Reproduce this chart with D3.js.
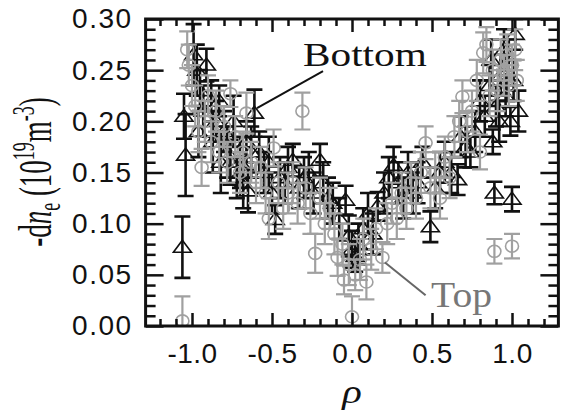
<!DOCTYPE html>
<html>
<head>
<meta charset="utf-8">
<script src="https://cdn.jsdelivr.net/npm/d3@7/dist/d3.min.js"></script>
<style>
  body { margin: 0; background: #fff; }
  svg { display: block; }
</style>
</head>
<body>
<div id="chart"></div>
<script>
// "Bottom" series (black triangles): rho, -dn_e, error
const bottomRho = [-1.06, -1.04, -1.05, -0.99, -0.97, -0.96, -0.95, -0.93, -0.91, -0.88, -0.87, -0.85, -0.83, -0.82, -0.80, -0.78,
  -0.76, -0.74, -0.72, -0.70, -0.68, -0.66, -0.65, -0.63, -0.61, -0.58, -0.55, -0.52, -0.50, -0.48, -0.45, -0.42,
  -0.40, -0.37, -0.33, -0.30, -0.27, -0.24, -0.20, -0.18, -0.15, -0.12, -0.08, -0.04, -0.02, 0.00, 0.02, 0.04,
  0.07, 0.10, 0.13, 0.16, 0.20, 0.23, 0.26, 0.29, 0.32, 0.35, 0.38, 0.41, 0.44, 0.49, 0.52, 0.55,
  0.58, 0.62, 0.66, 0.68, 0.71, 0.74, 0.77, 0.80, 0.83, 0.86, 0.87, 0.88, 0.89, 0.90, 0.92, 0.93,
  0.95, 0.96, 0.97, 0.98, 0.99, 1.00, 1.01, 1.02, 1.04];
const bottomVal = [0.077, 0.167, 0.205, 0.265, 0.250, 0.190, 0.230, 0.210, 0.255, 0.220, 0.180, 0.200, 0.220, 0.160, 0.190, 0.170,
  0.160, 0.200, 0.145, 0.160, 0.140, 0.180, 0.132, 0.170, 0.208, 0.170, 0.150, 0.160, 0.130, 0.104, 0.145, 0.140,
  0.155, 0.162, 0.135, 0.145, 0.150, 0.130, 0.162, 0.140, 0.125, 0.120, 0.105, 0.123, 0.088, 0.075, 0.068, 0.080,
  0.095, 0.110, 0.090, 0.117, 0.130, 0.145, 0.157, 0.140, 0.125, 0.150, 0.130, 0.140, 0.160, 0.097, 0.135, 0.150,
  0.160, 0.150, 0.143, 0.185, 0.175, 0.170, 0.190, 0.220, 0.205, 0.235, 0.260, 0.180, 0.130, 0.215, 0.200, 0.245,
  0.270, 0.225, 0.240, 0.260, 0.200, 0.124, 0.240, 0.285, 0.210];
const bottomErr = [0.030, 0.040, 0.022, 0.030, 0.025, 0.025, 0.020, 0.025, 0.016, 0.020, 0.030, 0.020, 0.015, 0.030, 0.020, 0.025,
  0.022, 0.025, 0.020, 0.025, 0.025, 0.020, 0.021, 0.025, 0.023, 0.020, 0.020, 0.025, 0.020, 0.014, 0.020, 0.020,
  0.020, 0.016, 0.020, 0.020, 0.020, 0.020, 0.016, 0.020, 0.020, 0.020, 0.020, 0.014, 0.020, 0.018, 0.015, 0.020,
  0.020, 0.020, 0.020, 0.014, 0.020, 0.020, 0.018, 0.020, 0.020, 0.020, 0.020, 0.020, 0.015, 0.015, 0.020, 0.020,
  0.020, 0.020, 0.015, 0.020, 0.020, 0.015, 0.020, 0.020, 0.020, 0.020, 0.020, 0.012, 0.011, 0.020, 0.020, 0.020,
  0.020, 0.020, 0.020, 0.020, 0.014, 0.012, 0.020, 0.015, 0.020];

// "Top" series (grey circles)
const topRho = [-1.06, -1.03, -1.02, -1.00, -0.98, -0.96, -0.94, -0.92, -0.90, -0.88, -0.85, -0.83, -0.80, -0.78, -0.76, -0.73,
  -0.70, -0.68, -0.66, -0.63, -0.60, -0.57, -0.54, -0.52, -0.49, -0.46, -0.43, -0.40, -0.37, -0.34, -0.31, -0.29,
  -0.26, -0.23, -0.20, -0.17, -0.14, -0.11, -0.09, -0.06, -0.05, -0.02, 0.00, 0.02, 0.05, 0.07, 0.09, 0.12,
  0.15, 0.19, 0.22, 0.25, 0.28, 0.31, 0.34, 0.37, 0.40, 0.43, 0.46, 0.49, 0.52, 0.55, 0.58, 0.61,
  0.64, 0.67, 0.69, 0.72, 0.75, 0.78, 0.80, 0.82, 0.84, 0.86, 0.88, 0.89, 0.91, 0.93, 0.95, 0.97,
  0.98, 1.00, 1.00, 1.02, 1.03];
const topVal = [0.005, 0.270, 0.255, 0.235, 0.215, 0.190, 0.155, 0.200, 0.225, 0.180, 0.210, 0.170, 0.195, 0.160, 0.227, 0.185,
  0.150, 0.170, 0.208, 0.160, 0.140, 0.155, 0.130, 0.105, 0.174, 0.140, 0.115, 0.130, 0.140, 0.120, 0.210, 0.135,
  0.110, 0.071, 0.125, 0.100, 0.115, 0.090, 0.067, 0.080, 0.045, 0.060, 0.009, 0.050, 0.065, 0.085, 0.043, 0.075,
  0.095, 0.067, 0.100, 0.120, 0.105, 0.130, 0.115, 0.140, 0.125, 0.150, 0.179, 0.135, 0.150, 0.125, 0.165, 0.145,
  0.185, 0.200, 0.224, 0.190, 0.210, 0.240, 0.170, 0.267, 0.275, 0.225, 0.250, 0.073, 0.230, 0.260, 0.245, 0.265,
  0.235, 0.078, 0.255, 0.270, 0.240];
const topErr = [0.024, 0.018, 0.020, 0.020, 0.020, 0.020, 0.018, 0.020, 0.020, 0.020, 0.020, 0.020, 0.020, 0.020, 0.013, 0.020,
  0.020, 0.020, 0.020, 0.020, 0.020, 0.020, 0.020, 0.020, 0.018, 0.020, 0.020, 0.020, 0.020, 0.020, 0.018, 0.020,
  0.020, 0.019, 0.020, 0.020, 0.020, 0.020, 0.018, 0.020, 0.014, 0.020, 0.020, 0.015, 0.020, 0.020, 0.017, 0.020,
  0.020, 0.015, 0.020, 0.020, 0.020, 0.020, 0.020, 0.020, 0.020, 0.020, 0.016, 0.020, 0.020, 0.020, 0.020, 0.020,
  0.020, 0.020, 0.016, 0.020, 0.020, 0.020, 0.017, 0.020, 0.017, 0.020, 0.020, 0.012, 0.020, 0.020, 0.020, 0.020,
  0.020, 0.012, 0.020, 0.020, 0.020];

const xMajor = [-1.0, -0.5, 0.0, 0.5, 1.0];
const yMajor = [0.00, 0.05, 0.10, 0.15, 0.20, 0.25, 0.30];

const width = 566, height = 416;
const black = "#111", grey = "#a0a0a0";

const svg = d3.select("#chart").append("svg")
  .attr("width", width)
  .attr("height", height);

const x = d3.scaleLinear().domain([-1.29, 1.29]).range([145.6, 558.4]);
const y = d3.scaleLinear().domain([0, 0.30]).range([326, 19]);

const xMinor = d3.range(-12, 13).map(d => d / 10).filter(d => !xMajor.some(m => Math.abs(m - d) < 1e-9));
const yMinor = d3.range(1, 30).map(d => d / 100).filter(d => d % 0.05 > 0.001 && d % 0.05 < 0.049);

// data layer (clipped to the frame)
svg.append("clipPath").attr("id", "clip")
  .append("rect").attr("x", x.range()[0]).attr("y", y(0.30)).attr("width", x.range()[1] - x.range()[0]).attr("height", y(0) - y(0.30));

const plot = svg.append("g").attr("clip-path", "url(#clip)");

function drawSeries(rho, val, err, color, marker, sw) {
  const pts = rho.map((r, i) => ({ r: r, v: val[i], e: err[i] }));
  const g = plot.append("g").attr("stroke", color).attr("fill", "none").attr("stroke-width", sw);
  const cap = 8;
  const bars = g.selectAll("g.pt").data(pts).enter().append("g").attr("class", "pt");
  bars.append("line")
    .attr("x1", d => x(d.r)).attr("x2", d => x(d.r))
    .attr("y1", d => y(d.v - d.e)).attr("y2", d => y(d.v + d.e));
  bars.append("line")
    .attr("x1", d => x(d.r) - cap).attr("x2", d => x(d.r) + cap)
    .attr("y1", d => y(d.v + d.e)).attr("y2", d => y(d.v + d.e));
  bars.append("line")
    .attr("x1", d => x(d.r) - cap).attr("x2", d => x(d.r) + cap)
    .attr("y1", d => y(d.v - d.e)).attr("y2", d => y(d.v - d.e));
  if (marker === "circle") {
    bars.append("ellipse")
      .attr("cx", d => x(d.r)).attr("cy", d => y(d.v)).attr("rx", 6.5).attr("ry", 6)
      .attr("stroke-width", 1.6);
  } else {
    bars.append("path")
      .attr("d", d => {
        const cx = x(d.r), cy = y(d.v);
        return `M${cx},${cy - 7}L${cx + 9},${cy + 5}L${cx - 9},${cy + 5}Z`;
      })
      .attr("stroke-width", 1.6);
  }
}

// black first, grey drawn over it
drawSeries(bottomRho, bottomVal, bottomErr, black, "triangle", 2.6);
drawSeries(topRho, topVal, topErr, grey, "circle", 2.2);

// axes: ticks on all four sides pointing inward
const fmtX = d => d.toFixed(1);
const fmtY = d => d.toFixed(2);

function styleAxis(g) {
  g.select(".domain").remove();
  g.selectAll(".tick line").attr("stroke", black).attr("stroke-width", 2.5);
  g.selectAll("text").attr("fill", black)
    .style("font-family", "'Liberation Sans', Arial, sans-serif")
    .style("font-size", "28px");
}

svg.append("g").attr("transform", `translate(0,${y(0)})`)
  .call(d3.axisBottom(x).tickValues(xMajor).tickSize(-13).tickPadding(17).tickFormat(fmtX))
  .call(styleAxis)
  .selectAll("text").style("letter-spacing", "0.5px");
svg.append("g").attr("transform", `translate(0,${y(0)})`)
  .call(d3.axisBottom(x).tickValues(xMinor).tickSize(-7).tickFormat(""))
  .call(styleAxis);
svg.append("g").attr("transform", `translate(0,${y(0.30)})`)
  .call(d3.axisTop(x).tickValues(xMajor).tickSize(-13).tickFormat(""))
  .call(styleAxis);
svg.append("g").attr("transform", `translate(0,${y(0.30)})`)
  .call(d3.axisTop(x).tickValues(xMinor).tickSize(-7).tickFormat(""))
  .call(styleAxis);

svg.append("g").attr("transform", `translate(${x.range()[0]},0)`)
  .call(d3.axisLeft(y).tickValues(yMajor).tickSize(-18).tickPadding(13).tickFormat(fmtY))
  .call(styleAxis)
  .selectAll("text").style("letter-spacing", "1.5px");
svg.append("g").attr("transform", `translate(${x.range()[0]},0)`)
  .call(d3.axisLeft(y).tickValues(yMinor).tickSize(-10).tickFormat(""))
  .call(styleAxis);
svg.append("g").attr("transform", `translate(${x.range()[1]},0)`)
  .call(d3.axisRight(y).tickValues(yMajor).tickSize(-18).tickFormat(""))
  .call(styleAxis);
svg.append("g").attr("transform", `translate(${x.range()[1]},0)`)
  .call(d3.axisRight(y).tickValues(yMinor).tickSize(-10).tickFormat(""))
  .call(styleAxis);

// frame
svg.append("rect")
  .attr("x", x.range()[0]).attr("y", y(0.30))
  .attr("width", x.range()[1] - x.range()[0]).attr("height", y(0) - y(0.30))
  .attr("fill", "none").attr("stroke", black).attr("stroke-width", 3);

const serif = "'Liberation Serif', 'Times New Roman', serif";

// annotations
svg.append("line")
  .attr("x1", x(-0.594)).attr("y1", y(0.213)).attr("x2", x(-0.181)).attr("y2", y(0.249))
  .attr("stroke", black).attr("stroke-width", 2);
svg.append("text")
  .attr("transform", `translate(${x(-0.306)},${y(0.254)}) scale(1.25,1)`)
  .style("font-family", serif).style("font-size", "33px").attr("fill", black)
  .text("Bottom");

svg.append("line")
  .attr("x1", x(0.206)).attr("y1", y(0.062)).attr("x2", x(0.46)).attr("y2", y(0.030))
  .attr("stroke", "#666").attr("stroke-width", 2);
svg.append("text")
  .attr("transform", `translate(${x(0.494)},${y(0.0185)}) scale(1.1,1)`)
  .style("font-family", serif).style("font-size", "36px").attr("fill", "#777")
  .text("Top");

// axis titles
svg.append("text")
  .attr("transform", `translate(${x(0)},403) scale(1.2,1)`)
  .attr("text-anchor", "middle")
  .style("font-family", serif).style("font-size", "34px").style("font-style", "italic")
  .attr("fill", black)
  .text("ρ");

const yt = svg.append("text")
  .attr("transform", "translate(51,172) rotate(-90) scale(1,1.7)")
  .attr("text-anchor", "middle")
  .style("font-family", serif).style("font-size", "27px").attr("fill", black);
yt.append("tspan").text("-d");
yt.append("tspan").style("font-style", "italic").text("n");
yt.append("tspan").attr("dy", 5).style("font-size", "18px").text("e");
yt.append("tspan").attr("dy", -5).text(" (10");
yt.append("tspan").attr("dy", -10).style("font-size", "18px").text("19");
yt.append("tspan").attr("dy", 10).text("m");
yt.append("tspan").attr("dy", -10).style("font-size", "18px").text("-3");
yt.append("tspan").attr("dy", 10).text(")");
</script>
</body>
</html>
